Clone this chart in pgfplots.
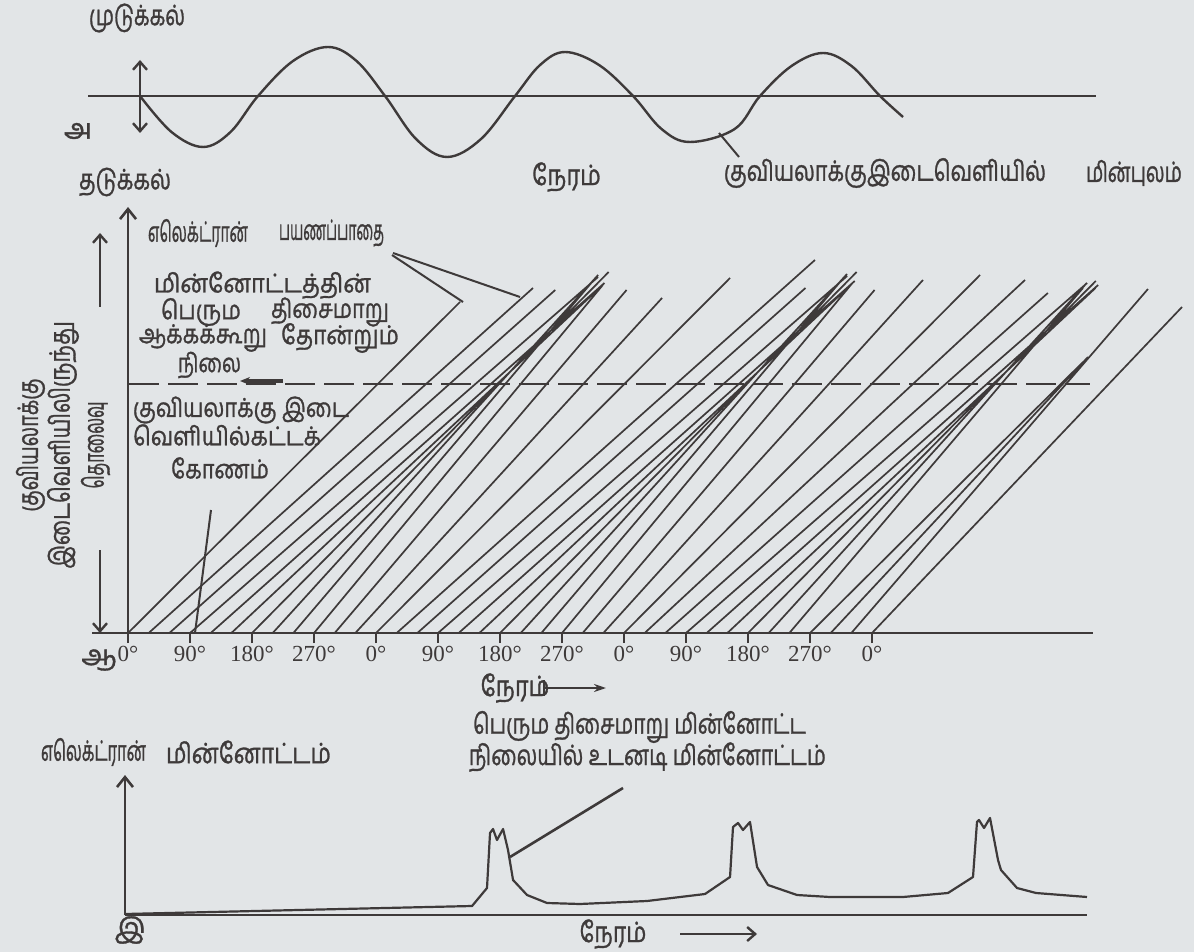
\documentclass[border=0pt]{standalone}
\usepackage{fontspec}
\setmainfont{Liberation Serif}
\newfontfamily\ta[Script=Tamil, FakeBold=1.2]{Hind Madurai}
\usepackage{graphicx}
\usepackage{pgfplots}
\pgfplotsset{compat=1.18}
\usetikzlibrary{arrows.meta}
\definecolor{bg}{RGB}{226,229,231}
\definecolor{ink}{RGB}{62,58,58}
% text set to a given width (in picture pixels), natural height kept
\newcommand{\W}[2]{\resizebox{\dimexpr #1pt/2\relax}{\height}{#2}}
\begin{document}
\begin{tikzpicture}
\begin{scope}[x=0.5pt,y=-0.5pt]
\useasboundingbox (0,0) rectangle (1194,952);
\fill[bg] (0,0) rectangle (1194,952);
\end{scope}

% ---------------- top panel: field in the buncher gap
\begin{axis}[at={(44pt,-83pt)}, anchor=south west, scale only axis,
  width=504pt, height=70pt, xmin=-58.1, xmax=1405.1, ymin=-70, ymax=70,
  axis lines=none, clip=false, xtick=\empty, ytick=\empty]
\draw[ink, line width=1.3pt] (axis cs:-58.1,0) -- (axis cs:1405.1,0);
\addplot[ink, line width=1.2pt, smooth, tension=0.6] coordinates {
(17.4,0) (63.1,-36) (108.9,-51) (148.8,-36) (188.7,0) (239.5,35) (290.3,49)
(331.7,35) (373.1,0) (418.1,-43) (463.1,-61) (512.4,-43) (561.8,0) (598.1,31)
(634.4,44) (683.7,31) (733.1,0) (774.4,-33) (815.8,-46) (880.6,-33) (917.4,0)
(963.1,30) (1008.9,43) (1050.2,30) (1091.6,0) (1125.0,-21)};
\draw[ink, line width=1.2pt, {Straight Barb[length=4pt,width=7pt]}-{Straight Barb[length=4pt,width=7pt]}]
  (axis cs:17.4,36) -- (axis cs:17.4,-37);
\end{axis}

% ---------------- middle panel: Applegate diagram
\begin{axis}[at={(46pt,-316.5pt)}, anchor=south west, scale only axis,
  width=500.5pt, height=213pt, xmin=-52.3, xmax=1400.8, ymin=0, ymax=426,
  clip=false, axis x line*=bottom, axis y line=none,
  x axis line style={ink, line width=1.3pt},
  xtick={0,90,...,1080},
  xticklabels={0°,90°,180°,270°,0°,90°,180°,270°,0°,90°,180°,270°,0°},
  tick align=outside, major tick length=5pt,
  xtick style={ink, line width=1pt},
  xticklabel style={font=\fontsize{11.5}{12}\selectfont, text=ink, inner sep=1.5pt},
  ytick=\empty]
\draw[ink, line width=1.3pt, -{Straight Barb[length=5pt,width=8pt]}] (axis cs:0,0) -- (axis cs:0,426);
\addplot[ink, line width=0.85pt, unbounded coords=jump] table {
x y
0 0
481.9 331
nan nan
30 0
587.9 345
nan nan
60 0
620.2 343
nan nan
90 0
682.3 356
nan nan
120 0
691.6 350
nan nan
150 0
687.5 347
nan nan
180 0
697.7 361
nan nan
210 0
682.4 358
nan nan
240 0
678.6 355
nan nan
270 0
689.2 348
nan nan
300 0
723.7 343
nan nan
330 0
775.2 335
nan nan
360 0
873.9 355
nan nan
390 0
997.2 373
nan nan
420 0
983.4 345
nan nan
450 0
1043.9 357
nan nan
480 0
1054.9 352
nan nan
510 0
1049.0 348
nan nan
540 0
1057.7 361
nan nan
570 0
1043.7 359
nan nan
600 0
1037.3 354
nan nan
630 0
1051.6 350
nan nan
660 0
1083.7 343
nan nan
690 0
1154.0 353
nan nan
720 0
1236.8 358
nan nan
750 0
1302.1 353
nan nan
780 0
1335.3 340
nan nan
810 0
1392.3 350
nan nan
840 0
1408.3 348
nan nan
870 0
1404.4 345
nan nan
900 0
1404.8 352
nan nan
930 0
1391.8 350
nan nan
960 0
1386.2 345
nan nan
990 0
1386.3 271
nan nan
1020 0
1393.5 276
nan nan
1050 0
1480.6 344
nan nan
1080 0
1530.0 326
};
\addplot[ink, line width=1pt, dash pattern=on 15pt off 4.5pt] coordinates {(2,249) (1396.4,249)};
\end{axis}

% ---------------- bottom panel: current
\begin{axis}[at={(62.5pt,-457.5pt)}, anchor=south west, scale only axis,
  width=481pt, height=70pt, xmin=-4.4, xmax=1392.1, ymin=0, ymax=140,
  axis lines=none, clip=false, xtick=\empty, ytick=\empty]
\draw[ink, line width=1.3pt] (axis cs:-4.4,0) -- (axis cs:1392.1,0);
\draw[ink, line width=1.3pt, -{Straight Barb[length=5pt,width=8pt]}] (axis cs:-4.4,0) -- (axis cs:-4.4,140);
\addplot[ink, line width=1.1pt, line join=round] coordinates {
(-4.4,1) (499.4,9) (521.1,27) (525.5,82) (529.8,86) (535.6,75) (544.4,86)
(551.6,65) (558.9,35) (579.2,20) (608.2,12) (656.1,11) (753.4,14) (837.6,21)
(873.9,38) (878.2,88) (885.5,92) (892.7,85) (902.9,93) (913.1,48) (929.0,30)
(971.1,20) (1019.0,18) (1125.0,18) (1190.3,22) (1226.6,38) (1232.4,93)
(1235.3,95) (1242.6,87) (1251.3,97) (1262.9,55) (1267.2,45) (1290.5,27)
(1318.1,22) (1392.1,18)};
\end{axis}

% ---------------- annotations (pixel coordinates)
\begin{scope}[x=0.5pt,y=-0.5pt, ink, line width=1pt,
  every node/.style={text=ink, inner sep=0pt, font=\ta\fontsize{14}{16}\selectfont}]
\node[anchor=west] at (88,18) {\W{96}{முடுக்கல்}};
\node at (78,131) {அ};
\node[anchor=west] at (78,182) {\W{92}{தடுக்கல்}};
\node[anchor=west] at (531,177) {\W{69}{நேரம்}};
\node[anchor=west] at (723,173) {\W{322}{குவியலாக்குஇடைவெளியில்}};
\node[anchor=west] at (1085,173) {\W{96}{மின்புலம்}};
\draw (719,133) -- (739,157);

\node[anchor=west] at (147,233) {\W{100}{எலெக்ட்ரான்}};
\node[anchor=west] at (278,233) {\W{105}{பயணப்பாதை}};
\draw (392,255) -- (463,302);
\draw (393,253) -- (520,297);
\begin{scope}[every node/.append style={font=\ta\fontsize{13}{15}\selectfont}]
\node[anchor=west] at (153,285) {\W{217}{மின்னோட்டத்தின்}};
\node[anchor=west] at (160,312) {\W{80}{பெரும}};
\node[anchor=west] at (270,312) {\W{118}{திசைமாறு}};
\node[anchor=west] at (138,338) {\W{128}{ஆக்கக்கூறு}};
\node[anchor=west] at (280,338) {\W{118}{தோன்றும்}};
\node[anchor=west] at (177,365) {\W{63}{நிலை}};
\node[anchor=west] at (132,410) {\W{216}{குவியலாக்கு இடை}};
\node[anchor=west] at (132,435) {\W{188}{வெளியில்கட்டக்}};
\node[anchor=west] at (170,468) {\W{98}{கோணம்}};
\end{scope}
\draw[line width=1.6pt, -{Stealth[length=5pt,width=4pt]}] (283,381) -- (240,381);
\draw (211,510) -- (195,633);
\node[rotate=90, align=center, font=\ta\fontsize{14}{14.5}\selectfont] at (63,445)
  {\W{133}{குவியலாக்கு}\\\W{247}{இடைவெளியிலிருந்து}\\\W{87}{தொலைவு}};
\draw[line width=1.2pt, -{Straight Barb[length=4pt,width=7pt]}] (100,307) -- (100,233);
\draw[line width=1.2pt, -{Straight Barb[length=4pt,width=7pt]}] (100,550) -- (100,633);
\node at (99,660) {ஆ};
\node at (515,688) {\W{69}{நேரம்}};
\draw[line width=1.2pt, |-{Stealth[length=6pt,width=4pt]}] (543,688) -- (606,688);

\node[anchor=west] at (472,727) {\W{333}{பெரும திசைமாறு மின்னோட்ட}};
\node[anchor=west] at (468,757) {\W{357}{நிலையில் உடனடி மின்னோட்டம்}};
\draw[line width=1.3pt] (510,857) -- (623,788);
\node[anchor=west] at (40,752) {\W{105}{எலெக்ட்ரான்}};
\node[anchor=west] at (165,752) {\W{165}{மின்னோட்டம்}};
\node at (130,930) {இ};
\node at (613,934) {\W{67}{நேரம்}};
\draw[line width=1.2pt, -{Straight Barb[length=4pt,width=7pt]}] (680,934) -- (757,934);

\pgfresetboundingbox
\useasboundingbox (0,0) rectangle (1194,952);
\end{scope}
\end{tikzpicture}
\end{document}
